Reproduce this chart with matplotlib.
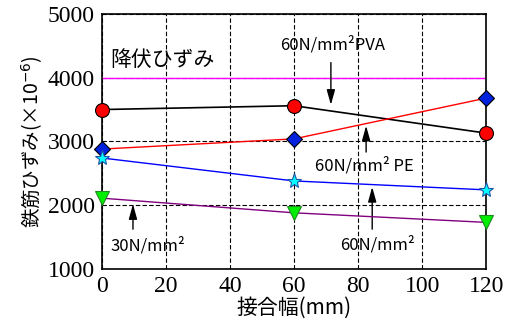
import matplotlib
matplotlib.use('Agg')
import matplotlib.pyplot as plt

plt.rcParams['font.family'] = ['Noto Sans CJK JP', 'DejaVu Sans']

# 接合幅 (mm)
widths = [0, 60, 120]
# 鉄筋ひずみ (x10^-6)
pva60 = [3500, 3560, 3130]
pe60 = [2880, 3040, 3680]
n60 = [2740, 2380, 2240]
n30 = [2110, 1880, 1730]
yield_strain = 4000

fig = plt.figure(figsize=(5.07, 3.24), dpi=100)
ax = fig.add_axes([0.201, 0.170, 0.758, 0.787])

ax.axhline(yield_strain, color='#ff00ff', lw=1.0, zorder=2)
ax.plot(widths, pva60, color='black', lw=1.2, marker='o', ms=10,
        mfc='red', mec='black', mew=0.8, zorder=4, clip_on=False)
ax.plot(widths, pe60, color='red', lw=1.0, marker='D', ms=8,
        mfc='#0022dd', mec='black', mew=0.8, zorder=4, clip_on=False)
ax.plot(widths, n60, color='blue', lw=1.0, marker='*', ms=11,
        mfc='cyan', mec='#2255aa', mew=0.8, zorder=4, clip_on=False)
ax.plot(widths, n30, color='purple', lw=1.0, marker='v', ms=10,
        mfc='#00ee00', mec='#228822', mew=0.8, zorder=4, clip_on=False)

ax.set_xlim(0, 120)
ax.set_ylim(1000, 5000)
ax.set_xticks([0, 20, 40, 60, 80, 100, 120])
ax.set_yticks([1000, 2000, 3000, 4000, 5000])
ax.grid(True, color='black', ls=(0, (4, 2)), lw=0.8)
for s in ax.spines.values():
    s.set_linewidth(1.2)
ax.tick_params(length=0, pad=5)
for lab in ax.get_xticklabels() + ax.get_yticklabels():
    lab.set_family('Liberation Serif')
    lab.set_fontsize(17)

ax.set_xlabel('接合幅(mm)', fontsize=15, labelpad=0)
ax.set_ylabel('鉄筋ひずみ(×10$^{-6}$)', fontsize=14, labelpad=2)

ax.text(2.5, 4270, '降伏ひずみ', fontsize=15, va='center', ha='left')

arr = dict(arrowstyle='-|>,head_length=0.9,head_width=0.25', color='black', lw=1.0)
kw = dict(fontsize=12, ha='center', va='center')
ax.annotate('', xy=(71.5, 3530), xytext=(71.5, 4280), arrowprops=arr)
ax.text(72, 4520, '60N/mm²PVA', **kw)
ax.annotate('', xy=(82.5, 3290), xytext=(82.5, 2790), arrowprops=arr)
ax.text(82, 2620, '60N/mm² PE', **kw)
ax.annotate('', xy=(84.4, 2330), xytext=(84.4, 1580), arrowprops=arr)
ax.text(86, 1380, '60N/mm²', **kw)
ax.annotate('', xy=(9.7, 2060), xytext=(9.7, 1580), arrowprops=arr)
ax.text(14.5, 1370, '30N/mm²', **kw)

fig.savefig('out.png', dpi=100)
